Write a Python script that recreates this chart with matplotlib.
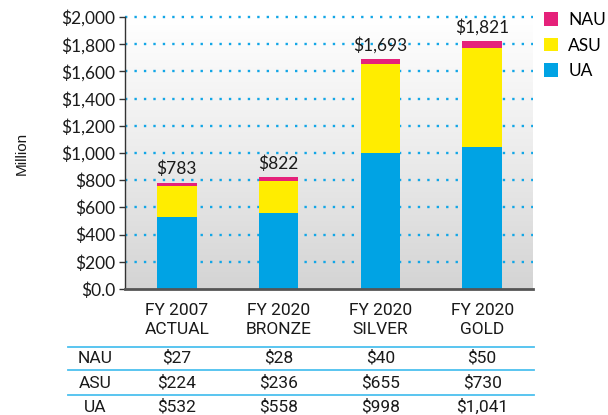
"""Arizona university funding scenarios — stacked bars with a value table below."""

import matplotlib
matplotlib.use("Agg")
import matplotlib.pyplot as plt
import numpy as np
from matplotlib.colors import LinearSegmentedColormap
from matplotlib.transforms import blended_transform_factory

# 데이터
categories = ["FY 2007\nACTUAL", "FY 2020\nBRONZE", "FY 2020\nSILVER", "FY 2020\nGOLD"]
schools = ["NAU", "ASU", "UA"]
nau = [27, 28, 40, 50]
asu = [224, 236, 655, 730]
ua = [532, 558, 998, 1041]
y_ticks = [0, 200, 400, 600, 800, 1000, 1200, 1400, 1600, 1800, 2000]

BLUE = "#00a3e4"
YELLOW = "#ffed00"
MAGENTA = "#e5217a"
GRID = "#12a6e6"
TXT = "#1a1a1a"
TICK_FONT = ["Lato", "DejaVu Sans"]
TABLE_FONT = ["Roboto", "DejaVu Sans"]


def money(v):
    return "$0.0" if v == 0 else f"${v:,.0f}"


fig = plt.figure(figsize=(6.08, 4.15), dpi=100)
W, H = 608, 415
ax = fig.add_axes([125 / W, 1 - 289 / H, (533 - 125) / W, (289 - 17) / H])

x = np.arange(len(categories))
ax.set_xlim(-0.51, 3.5)
ax.set_ylim(0, 2000)

# 배경 그라데이션 (위 흰색 → 아래 연회색)
bg = LinearSegmentedColormap.from_list("bg", ["#d4d4d4", "#ececec", "#ffffff"])
grad = np.linspace(0.0, 1.0, 256).reshape(-1, 1)
ax.imshow(grad, extent=[-0.51, 3.5, 0, 2000], aspect="auto", cmap=bg,
          vmin=0, vmax=1, zorder=0, origin="lower")
# 점선 격자
for t in y_ticks[1:]:
    ax.axhline(t, color=GRID, linestyle=(0, (1, 3)), linewidth=1.7, zorder=1, clip_on=False)

width = 0.39
ua_a, asu_a, nau_a = np.array(ua), np.array(asu), np.array(nau)
b_ua = ax.bar(x, ua_a, width, color=BLUE, zorder=2, label="UA")
b_asu = ax.bar(x, asu_a, width, bottom=ua_a, color=YELLOW, zorder=2, label="ASU")
b_nau = ax.bar(x, nau_a, width, bottom=ua_a + asu_a, color=MAGENTA, zorder=2, label="NAU")

totals = ua_a + asu_a + nau_a
for xi, tot in zip(x, totals):
    ax.annotate(money(tot), (xi, tot), xytext=(0, 4), textcoords="offset points",
                ha="center", va="bottom", fontsize=12.5, family=TICK_FONT, color=TXT)

ax.set_yticks(y_ticks)
ax.set_yticklabels([money(v) for v in y_ticks], family=TICK_FONT, fontsize=12.5, color=TXT)
ax.set_xticks([])
ax.tick_params(axis="y", length=4, width=1, color="#333333", pad=3)
for s in ("top", "right"):
    ax.spines[s].set_visible(False)
ax.spines["left"].set_color("#333333")
ax.spines["left"].set_linewidth(1)
ax.spines["bottom"].set_color("#555555")
ax.spines["bottom"].set_linewidth(2)

fig.text(22 / W, 1 - 153 / H, "Million", rotation=90, ha="center", va="center",
         fontsize=11, family=["Liberation Sans", "DejaVu Sans"], color=TXT)

# 범례
ax.legend(handles=[b_nau, b_asu, b_ua], labels=schools, loc="upper left",
          bbox_to_anchor=(544 / W, 1 - 12 / H), bbox_transform=fig.transFigure,
          frameon=False, prop={"family": TICK_FONT, "size": 12.5},
          handlelength=0.8, handleheight=0.8, handletextpad=0.6, labelspacing=0.55,
          borderaxespad=0, borderpad=0)

# 아래 표
tr = blended_transform_factory(ax.transData, fig.transFigure)
for xi, cat in zip(x, categories):
    ax.text(xi, 1 - 320 / H, cat, transform=tr, ha="center", va="center",
            fontsize=12.5, family=TABLE_FONT, color=TXT, linespacing=1.3)

rows = [nau, asu, ua]
row_y = [358, 383, 407]
for name, vals, ry in zip(schools, rows, row_y):
    fig.text(95 / W, 1 - ry / H, name, ha="center", va="center",
             fontsize=12.5, family=TABLE_FONT, color=TXT)
    for xi, v in zip(x, vals):
        ax.text(xi, 1 - ry / H, money(v), transform=tr, ha="center", va="center",
                fontsize=12.5, family=TABLE_FONT, color=TXT)

for ly in (347, 370, 395):
    fig.add_artist(plt.Line2D([68 / W, 534 / W], [1 - ly / H, 1 - ly / H],
                              transform=fig.transFigure, color="#4cc0ef", linewidth=1.3))

fig.savefig("out.png", dpi=100)
